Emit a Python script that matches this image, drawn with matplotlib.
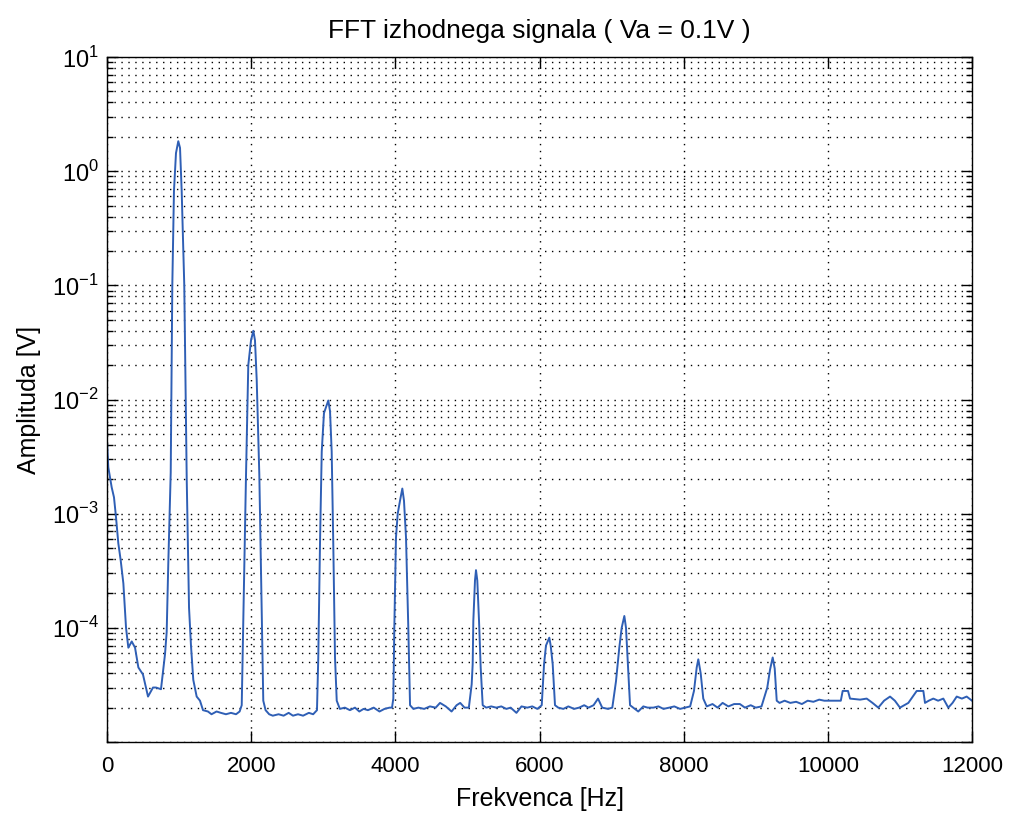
import matplotlib
matplotlib.use("Agg")
import matplotlib.pyplot as plt
from matplotlib.ticker import FixedLocator, NullFormatter

# FFT spectrum (frequency in Hz, amplitude in V)
freq = [0, 18, 65, 97, 125, 157, 190, 227, 264, 296, 343, 389, 435, 499,
        569, 638, 680, 749, 805, 828, 850, 884, 906, 929, 957, 989, 1013,
        1036, 1072, 1106, 1138, 1165, 1197, 1244, 1290, 1332,
        1400, 1450, 1520, 1580, 1650, 1720, 1790, 1840,
        1869, 1891, 1928, 1960, 1998, 2030, 2053, 2077, 2113, 2147, 2168,
        2200, 2250, 2300, 2380, 2450, 2520, 2580, 2650, 2720, 2800, 2860,
        2913, 2931, 2955, 2979, 3010, 3048, 3070, 3094, 3117, 3139, 3163, 3187,
        3230, 3300, 3370, 3440, 3500, 3560, 3620, 3700, 3780, 3850, 3920,
        3954, 3972, 3986, 4009, 4033, 4065, 4097, 4120, 4148, 4180, 4204,
        4250, 4320, 4400, 4480, 4560, 4620, 4700, 4780, 4850, 4900, 4960, 5020,
        5059, 5073, 5082, 5105, 5119, 5137, 5161, 5184, 5212,
        5260, 5330, 5400, 5470, 5540, 5600, 5680, 5750, 5830, 5900, 5970,
        6031, 6063, 6090, 6136, 6155, 6183, 6215,
        6260, 6330, 6400, 6480, 6550, 6620, 6680, 6750, 6812, 6870, 6950, 7010,
        7061, 7107, 7140, 7177, 7200, 7232, 7256,
        7300, 7370, 7440, 7500, 7580, 7650, 7720, 7800, 7870, 7950, 8020, 8090,
        8143, 8181, 8203, 8236, 8272,
        8320, 8400, 8470, 8540, 8620, 8700, 8780, 8850, 8930, 9000, 9080,
        9160, 9198, 9235, 9263, 9291,
        9330, 9400, 9480, 9560, 9640, 9720, 9800, 9880, 9950, 10030, 10100,
        10180, 10206, 10280, 10308, 10447, 10539, 10620, 10700, 10780, 10863,
        10930, 11001, 11060, 11117, 11233, 11325, 11348, 11400, 11463, 11530,
        11602, 11671, 11730, 11788, 11860, 11926, 12000]
amp = [4.3e-3, 2.55e-3, 1.7e-3, 1.39e-3, 9.3e-4, 5.5e-4, 3.9e-4, 2.45e-4, 1.0e-4, 6.7e-5, 7.6e-5, 6.7e-5, 4.5e-5, 3.9e-5,
       2.5e-5, 3.0e-5, 3.0e-5, 2.9e-5, 5.9e-5, 9.2e-5, 3.6e-4, 2.3e-3, 0.10, 0.67, 1.44, 1.83, 1.6,
       0.67, 0.10, 2.0e-3, 1.5e-4, 7.0e-5, 3.5e-5, 2.5e-5, 2.3e-5, 1.9e-5,
       1.85e-5, 1.75e-5, 1.85e-5, 1.8e-5, 1.75e-5, 1.8e-5, 1.75e-5, 1.85e-5,
       2.1e-5, 1.15e-4, 2.1e-3, 0.020, 0.033, 0.040, 0.033, 0.0148, 2.2e-3, 1.3e-4, 2.3e-5,
       1.9e-5, 1.75e-5, 1.7e-5, 1.75e-5, 1.7e-5, 1.8e-5, 1.7e-5, 1.75e-5, 1.7e-5, 1.8e-5, 1.75e-5,
       1.9e-5, 5.5e-5, 5.5e-4, 3.5e-3, 7.6e-3, 8.9e-3, 9.8e-3, 7.9e-3, 3.5e-3, 5.5e-4, 5.5e-5, 2.3e-5,
       1.95e-5, 2.0e-5, 1.9e-5, 2.0e-5, 1.85e-5, 1.95e-5, 1.9e-5, 2.0e-5, 1.85e-5, 1.95e-5, 2.0e-5,
       2.0e-5, 2.4e-5, 1.0e-4, 6.2e-4, 1.0e-3, 1.3e-3, 1.66e-3, 1.3e-3, 6.2e-4, 1.0e-4, 2.1e-5,
       1.95e-5, 2.0e-5, 1.95e-5, 2.05e-5, 2.0e-5, 2.2e-5, 2.05e-5, 1.85e-5, 2.1e-5, 2.2e-5, 2.0e-5, 2.0e-5,
       3.2e-5, 4.8e-5, 1.15e-4, 2.6e-4, 3.2e-4, 2.6e-4, 1.15e-4, 4.5e-5, 2.1e-5,
       2.0e-5, 2.05e-5, 2.0e-5, 2.05e-5, 1.95e-5, 2.0e-5, 1.8e-5, 2.05e-5, 2.0e-5, 2.05e-5, 1.95e-5,
       2.1e-5, 4.8e-5, 7.0e-5, 8.2e-5, 7.0e-5, 4.8e-5, 2.1e-5,
       2.0e-5, 1.95e-5, 2.05e-5, 1.95e-5, 2.0e-5, 2.1e-5, 2.0e-5, 2.1e-5, 2.4e-5, 2.0e-5, 1.95e-5, 2.0e-5,
       3.4e-5, 6.7e-5, 1.0e-4, 1.27e-4, 1.0e-4, 4.0e-5, 2.1e-5,
       2.0e-5, 1.85e-5, 2.05e-5, 2.0e-5, 2.0e-5, 2.05e-5, 1.95e-5, 2.0e-5, 2.05e-5, 1.95e-5, 2.0e-5, 2.05e-5,
       2.8e-5, 4.5e-5, 5.3e-5, 4.0e-5, 2.4e-5,
       2.05e-5, 2.15e-5, 2.0e-5, 2.2e-5, 2.05e-5, 2.15e-5, 2.15e-5, 2.0e-5, 2.1e-5, 2.0e-5, 2.05e-5,
       3.0e-5, 4.3e-5, 5.5e-5, 4.4e-5, 2.3e-5,
       2.2e-5, 2.3e-5, 2.2e-5, 2.25e-5, 2.15e-5, 2.3e-5, 2.25e-5, 2.35e-5, 2.3e-5, 2.3e-5, 2.3e-5,
       2.3e-5, 2.8e-5, 2.8e-5, 2.4e-5, 2.35e-5, 2.4e-5, 2.2e-5, 2.0e-5, 2.3e-5, 2.5e-5,
       2.3e-5, 2.0e-5, 2.1e-5, 2.2e-5, 2.8e-5, 2.8e-5, 2.2e-5, 2.3e-5, 2.4e-5, 2.3e-5,
       2.4e-5, 2.0e-5, 2.2e-5, 2.5e-5, 2.4e-5, 2.5e-5, 2.3e-5]

x_ticks = [0, 2000, 4000, 6000, 8000, 10000, 12000]
y_ticks = [1e-5, 1e-4, 1e-3, 1e-2, 1e-1, 1e0, 1e1]
y_labels = ["", r"$10^{-4}$", r"$10^{-3}$", r"$10^{-2}$", r"$10^{-1}$", r"$10^{0}$", r"$10^{1}$"]

plt.rcParams["font.family"] = ["Liberation Sans", "DejaVu Sans"]
plt.rcParams["mathtext.fontset"] = "custom"
plt.rcParams["mathtext.rm"] = "Liberation Sans"

fig = plt.figure(figsize=(10.11, 8.14), dpi=100, facecolor="white")
ax = fig.add_axes([107 / 1011, 1 - 742 / 814, 865 / 1011, 685 / 814])

ax.plot(freq, amp, color="#2f5fb5", linewidth=1.4)

ax.set_yscale("log")
ax.set_xlim(0, 12000)
ax.set_ylim(1e-5, 10)

ax.set_xticks(x_ticks)
ax.set_xticklabels([str(t) for t in x_ticks])
ax.set_yticks(y_ticks)
ax.set_yticklabels(y_labels)
minor = [m * 10.0 ** e for e in range(-5, 1) for m in range(2, 10)]
ax.yaxis.set_minor_locator(FixedLocator(minor))
ax.yaxis.set_minor_formatter(NullFormatter())

ax.tick_params(which="both", direction="in", top=True, right=True, labelsize=16, colors="black")
ax.tick_params(axis="y", labelsize=17)
ax.tick_params(which="major", length=8, width=1)
ax.tick_params(which="minor", length=4, width=1)
ax.tick_params(axis="x", pad=10)
ax.tick_params(axis="y", pad=6)

ax.grid(True, which="major", linestyle=(0, (1, 4)), color="black", linewidth=1.0)
ax.grid(True, which="minor", axis="y", linestyle=(0, (1, 4)), color="black", linewidth=1.0)

for sp in ax.spines.values():
    sp.set_linewidth(1.0)
    sp.set_color("black")

ax.set_title("FFT izhodnega signala ( Va = 0.1V )", fontsize=19, pad=14)
ax.set_xlabel("Frekvenca [Hz]", fontsize=18, labelpad=7)
ax.set_ylabel("Amplituda [V]", fontsize=18, labelpad=8)

fig.savefig("out.png", dpi=100, facecolor="white")
